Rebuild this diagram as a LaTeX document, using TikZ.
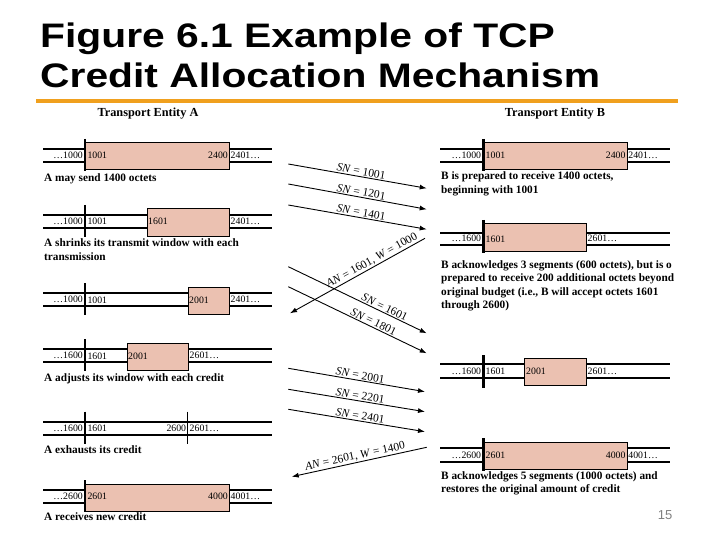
\documentclass[tikz,border=0pt]{standalone}
\usepackage{fontspec}
\setmainfont{Liberation Serif}
\newfontfamily\titlefont{Liberation Sans}
\usepackage{graphicx}
\usetikzlibrary{arrows.meta,positioning,calc}
\definecolor{winfill}{RGB}{235,193,177}
\definecolor{rulecol}{RGB}{240,160,30}

\begin{document}
\begin{tikzpicture}[
  x=1pt, y=-1pt,
  tline/.style={line width=2pt},
  wbar/.style={line width=2.6pt},
  thinbar/.style={line width=1.3pt},
  wbox/.style={draw, line width=1pt, fill=winfill},
  num/.style={font=\fontsize{9.8}{10}\selectfont, inner sep=0.5pt},
  capt/.style={font=\fontsize{11.3}{13.6}\selectfont\bfseries, align=left, anchor=north west, inner sep=0pt},
  head/.style={font=\fontsize{12.3}{14}\selectfont\bfseries, inner sep=0pt},
  seg/.style={line width=0.9pt, -{Latex[length=7pt,width=5pt]}},
  slabel/.style={font=\fontsize{11.5}{12}\selectfont, sloped, above, inner sep=1pt}
]
  \useasboundingbox (0,0) rectangle (720,540);

  % Title
  \node[anchor=base west, inner sep=0pt, font=\titlefont\fontsize{34}{40}\selectfont\bfseries] (t1) at (40,48)
    {\scalebox{1.2}[1]{Figure 6.1 Example of TCP}};
  \node[anchor=base west, inner sep=0pt, font=\titlefont\fontsize{34}{40}\selectfont\bfseries] (t2) at (40,88)
    {\scalebox{1.2}[1]{Credit Allocation Mechanism}};
  \draw[rulecol, line width=4pt] (36,101.5) -- (678,101.5);

  \node[head] (ha) at (148,114) {Transport Entity A};
  \node[head] (hb) at (555,114) {Transport Entity B};

  % Entity A
  \foreach \yt in {149,215,293.3,349.3,421.7,490}
    \draw[tline] (43,\yt) -- (272,\yt) (43,\yt+13) -- (272,\yt+13);

  \node[wbox, anchor=north west, minimum width=144pt, minimum height=27pt] (a1) at (85,142.5) {};
  \node[wbox, anchor=north west, minimum width=82.3pt, minimum height=27pt] (a2) at (146.7,208.5) {};
  \node[wbox, anchor=north west, minimum width=41.3pt, minimum height=27pt] (a3) at (187.7,286.5) {};
  \node[wbox, anchor=north west, minimum width=61pt, minimum height=27pt] (a4) at (126.7,342.5) {};
  \node[wbox, anchor=north west, minimum width=144pt, minimum height=27pt] (a6) at (85,483.5) {};

  \foreach \yt in {149,215,293.3,349.3,421.7,490}
    \draw[wbar] (85,\yt-10) -- (85,\yt+22);
  \draw[thinbar] (187.7,411.7) -- (187.7,443.7);

  \node[num, anchor=east] (a1l) at (83.5,155.5) {\dots1000};
  \node[num, anchor=west] (a1r) at (86.8,155.5) {1001};
  \node[num, anchor=east] at (228.5,155.5) {2400};
  \node[num, anchor=west] at (230,155.5) {2401\dots};
  \node[num, anchor=east] at (83.5,221.5) {\dots1000};
  \node[num, anchor=west] at (86.8,221.5) {1001};
  \node[num, anchor=west] at (147.5,221.5) {1601};
  \node[num, anchor=west] at (230,221.5) {2401\dots};
  \node[num, anchor=east] at (83.5,299.8) {\dots1000};
  \node[num, anchor=west] at (86.8,299.8) {1001};
  \node[num, anchor=west] at (188.5,299.8) {2001};
  \node[num, anchor=west] at (230,299.8) {2401\dots};
  \node[num, anchor=east] at (83.5,355.8) {\dots1600};
  \node[num, anchor=west] at (86.8,355.8) {1601};
  \node[num, anchor=west] at (127.5,355.8) {2001};
  \node[num, anchor=west] at (189,355.8) {2601\dots};
  \node[num, anchor=east] at (83.5,428.2) {\dots1600};
  \node[num, anchor=west] at (86.8,428.2) {1601};
  \node[num, anchor=east] at (186.8,428.2) {2600};
  \node[num, anchor=west] at (189,428.2) {2601\dots};
  \node[num, anchor=east] at (83.5,496.5) {\dots2600};
  \node[num, anchor=west] at (86.8,496.5) {2601};
  \node[num, anchor=east] at (228.5,496.5) {4000};
  \node[num, anchor=west] at (230,496.5) {4001\dots};

  \node[capt] (ca1) at (44,173.5) {A may send 1400 octets};
  \node[capt] (ca2) at (44,238.5) {A shrinks its transmit window with each\\transmission};
  \node[capt] (ca4) at (44,373) {A adjusts its window with each credit};
  \node[capt] (ca5) at (44,445) {A exhausts its credit};
  \node[capt] (ca6) at (44,512) {A receives new credit};

  % Entity B
  \foreach \yt/\yb in {149/162,232.7/245,364.3/378,448.3/461.7}
    \draw[tline] (440,\yt) -- (670,\yt) (440,\yb) -- (670,\yb);

  \node[wbox, anchor=north west, minimum width=143.4pt, minimum height=27pt] (b1) at (483.3,142.5) {};
  \node[wbox, anchor=north west, minimum width=102.4pt, minimum height=27.5pt] (b2) at (483.3,223.3) {};
  \node[wbox, anchor=north west, minimum width=61.4pt, minimum height=27pt] (b3) at (524.3,358) {};
  \node[wbox, anchor=north west, minimum width=143.4pt, minimum height=27.5pt] (b4) at (483.3,441.7) {};

  \foreach \ya/\yb in {139/171,220/253,355/388.3,438/470.5}
    \draw[wbar] (483.3,\ya) -- (483.3,\yb);

  \node[num, anchor=east] at (481.8,155.5) {\dots1000};
  \node[num, anchor=west] at (485,155.5) {1001};
  \node[num, anchor=east] at (626.2,155.5) {2400};
  \node[num, anchor=west] at (627.7,155.5) {2401\dots};
  \node[num, anchor=east] at (481.8,238.8) {\dots1600};
  \node[num, anchor=west] at (485,238.8) {1601};
  \node[num, anchor=west] at (587,238.8) {2601\dots};
  \node[num, anchor=east] at (481.8,371.2) {\dots1600};
  \node[num, anchor=west] at (485,371.2) {1601};
  \node[num, anchor=west] at (525.5,371.2) {2001};
  \node[num, anchor=west] at (587,371.2) {2601\dots};
  \node[num, anchor=east] at (481.8,455) {\dots2600};
  \node[num, anchor=west] at (485,455) {2601};
  \node[num, anchor=east] at (626.2,455) {4000};
  \node[num, anchor=west] at (627.7,455) {4001\dots};

  \node[capt] (cb1) at (441,171.5) {B is prepared to receive 1400 octets,\\beginning with 1001};
  \node[capt] (cb2) at (441,260) {B acknowledges 3 segments (600 octets), but is o\\prepared to receive 200 additional octets beyond\\original budget (i.e., B will accept octets 1601\\through 2600)};
  \node[capt] (cb4) at (441,471) {B acknowledges 5 segments (1000 octets) and\\restores the original amount of credit};

  % Segments
  \coordinate (s1a) at (288.3,164);   \coordinate (s1b) at (426.7,188.3);
  \coordinate (s2a) at (288.3,184);   \coordinate (s2b) at (426.7,209.3);
  \coordinate (s3a) at (288.3,205);   \coordinate (s3b) at (426.7,229.3);
  \coordinate (k1a) at (425,238.3);   \coordinate (k1b) at (290,313.3);
  \coordinate (s4a) at (288.3,266.7); \coordinate (s4b) at (426.7,333.3);
  \coordinate (s5a) at (288.3,286.7); \coordinate (s5b) at (426.7,353.3);
  \coordinate (s6a) at (288.3,368.3); \coordinate (s6b) at (425,391.7);
  \coordinate (s7a) at (288.3,389.3); \coordinate (s7b) at (425,411.7);
  \coordinate (s8a) at (288.3,409.3); \coordinate (s8b) at (425,431.7);
  \coordinate (k2a) at (426.7,447.3); \coordinate (k2b) at (291.7,476.7);

  \draw[seg] (s1a) -- (s1b) node[slabel, pos=0.52] {\textit{SN} = 1001};
  \draw[seg] (s2a) -- (s2b) node[slabel, pos=0.52] {\textit{SN} = 1201};
  \draw[seg] (s3a) -- (s3b) node[slabel, pos=0.52] {\textit{SN} = 1401};
  \draw[seg] (k1a) -- (k1b) node[slabel, pos=0.37] {\textit{AN} = 1601, \textit{W} = 1000};
  \draw[seg] (s4a) -- (s4b) node[slabel, pos=0.68] {\textit{SN} = 1601};
  \draw[seg] (s5a) -- (s5b) node[slabel, pos=0.6] {\textit{SN} = 1801};
  \draw[seg] (s6a) -- (s6b) node[slabel, pos=0.52] {\textit{SN} = 2001};
  \draw[seg] (s7a) -- (s7b) node[slabel, pos=0.52] {\textit{SN} = 2201};
  \draw[seg] (s8a) -- (s8b) node[slabel, pos=0.52] {\textit{SN} = 2401};
  \draw[seg] (k2a) -- (k2b) node[slabel, pos=0.52] {\textit{AN} = 2601, \textit{W} = 1400};

  \node[font=\titlefont\fontsize{13}{15}\selectfont, text=gray] (pg) at (665,515) {15};
\end{tikzpicture}
\end{document}
